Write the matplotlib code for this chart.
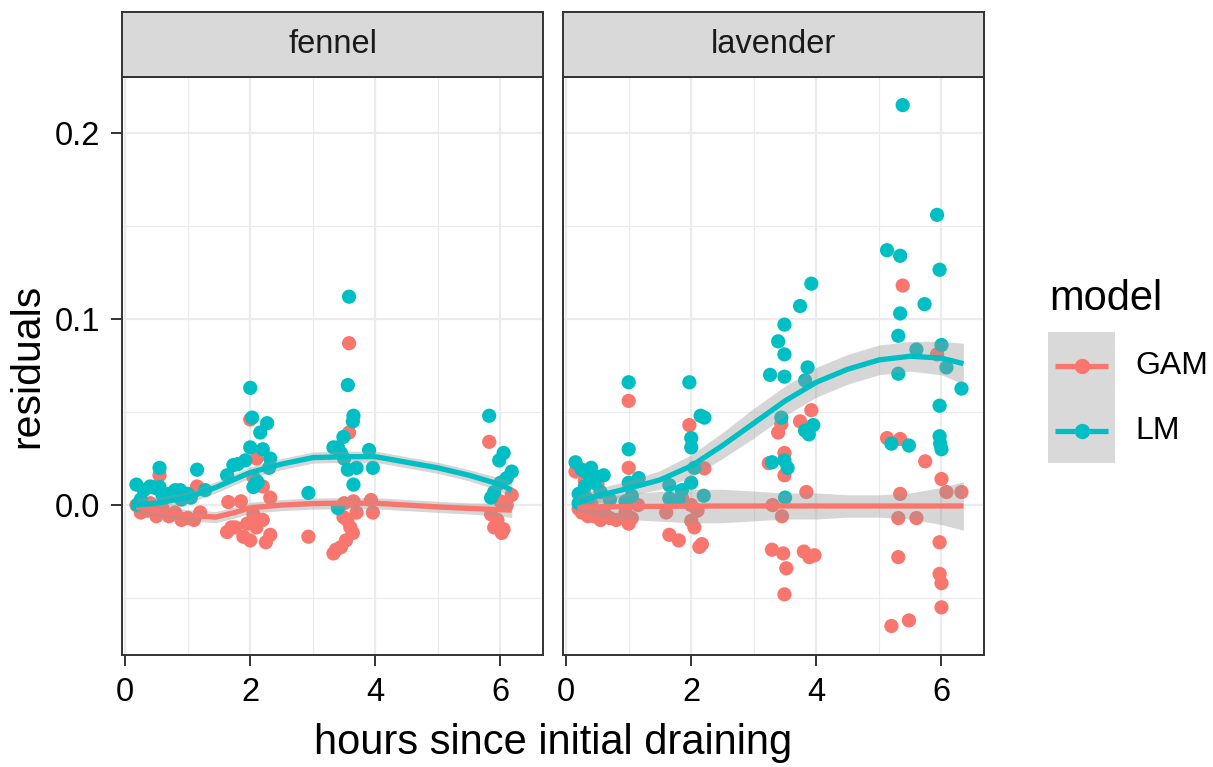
import matplotlib.pyplot as plt
from matplotlib.patches import Rectangle
import numpy as np

plt.rcParams['font.family'] = ['Liberation Sans', 'DejaVu Sans']

GAM_COL = '#F8766D'
LM_COL = '#00BFC4'

panels = ['fennel', 'lavender']
models = ['GAM', 'LM']

# fennel residuals
fen_gam_x = [0.18, 0.25, 0.35, 0.4, 0.45, 0.5, 0.55, 0.6, 0.7, 0.8, 0.9, 1.0, 1.1, 1.15, 1.2,
             1.63, 1.65, 1.7, 1.76, 1.85, 1.89, 1.95, 2.0, 2.0, 2.05, 2.05, 2.1, 2.1, 2.2, 2.2, 2.25, 2.32, 2.32,
             2.93,
             3.33, 3.37, 3.45, 3.49, 3.5, 3.53, 3.55, 3.58, 3.58, 3.6, 3.64, 3.65, 3.7, 3.93, 3.96,
             5.82, 5.85, 5.9, 5.95, 6.0, 6.02, 6.05, 6.1, 6.18]
fen_gam_y = [0.0, -0.004, -0.003, 0.001, -0.001, -0.006, 0.016, -0.002, -0.006, -0.004, -0.008, -0.007, -0.008, 0.010, -0.004,
             -0.0145, 0.0016, -0.012, -0.012, 0.002, -0.017, -0.010, 0.046, -0.019, -0.005, 0.015, -0.012, 0.025, -0.008, 0.010, -0.020, -0.016, 0.004,
             -0.017,
             -0.026, -0.024, -0.0226, -0.0065, 0.001, -0.019, -0.008, 0.087, 0.039, -0.012, -0.015, 0.002, -0.004, 0.0027, -0.004,
             0.034, -0.005, -0.012, -0.008, 0.002, -0.015, -0.013, 0.0, 0.0054]
fen_lm_x = [0.18, 0.2, 0.25, 0.3, 0.4, 0.44, 0.5, 0.55, 0.55, 0.6, 0.7, 0.8, 0.88, 0.9, 1.0, 1.05, 1.15, 1.28,
            1.63, 1.73, 1.8, 1.92, 2.0, 2.0, 2.03, 2.05, 2.1, 2.12, 2.16, 2.2, 2.27, 2.3, 2.32,
            2.93,
            3.33, 3.4, 3.4, 3.45, 3.49, 3.5, 3.56, 3.56, 3.58, 3.64, 3.65, 3.65, 3.7, 3.9, 3.96,
            5.82, 5.85, 5.9, 5.98, 6.0, 6.05, 6.1, 6.18]
fen_lm_y = [0.011, 0.0, 0.003, 0.008, 0.010, 0.0097, 0.009, 0.020, 0.0097, 0.005, 0.006, 0.008, 0.008, 0.003, 0.006, 0.004, 0.019, 0.008,
            0.016, 0.0215, 0.022, 0.024, 0.063, 0.031, 0.047, 0.0097, 0.013, 0.012, 0.039, 0.030, 0.044, 0.020, 0.025,
            0.0065,
            0.031, 0.031, -0.0016, 0.028, 0.0366, 0.025, 0.0645, 0.019, 0.112, 0.045, 0.048, 0.011, 0.020, 0.0296, 0.020,
            0.048, 0.004, 0.007, 0.024, 0.012, 0.028, 0.0145, 0.018]

# lavender residuals
lav_gam_x = [0.15, 0.2, 0.25, 0.3, 0.3, 0.35, 0.4, 0.45, 0.5, 0.55, 0.6, 0.7, 0.8,
             0.95, 1.0, 1.0, 1.0, 1.05, 1.15,
             1.6, 1.65, 1.8, 1.85, 1.97, 2.0, 2.0, 2.05, 2.1, 2.13, 2.17, 2.21,
             3.24, 3.29, 3.3, 3.39, 3.44, 3.45, 3.47, 3.49, 3.49, 3.49, 3.52, 3.74, 3.8, 3.84, 3.89, 3.92, 3.97,
             5.13, 5.2, 5.31, 5.31, 5.34, 5.34, 5.38, 5.48, 5.6, 5.74, 5.93, 5.97, 5.97, 6.0, 6.0, 6.0, 6.08, 6.32]
lav_gam_y = [0.018, -0.002, -0.004, 0.013, 0.005, -0.006, 0.001, -0.006, 0.011, -0.008, -0.003, -0.007, -0.008,
             -0.004, 0.056, 0.020, -0.010, -0.007, 0.0,
             -0.004, -0.016, -0.019, 0.004, 0.043, -0.0085, 0.0, -0.012, -0.003, -0.0225, -0.021, 0.0197,
             0.0225, -0.024, 0.0, 0.039, 0.0435, -0.006, -0.026, 0.028, 0.016, -0.048, -0.034, 0.045, -0.025, 0.007, -0.028, 0.051, -0.027,
             0.036, -0.065, -0.007, -0.028, 0.0355, 0.006, 0.118, -0.062, -0.007, 0.0235, 0.081, -0.020, -0.037, -0.042, -0.055, 0.014, 0.007, 0.007]
lav_lm_x = [0.15, 0.2, 0.2, 0.25, 0.3, 0.35, 0.35, 0.4, 0.45, 0.5, 0.55, 0.6, 0.7,
            0.95, 1.0, 1.0, 1.0, 1.05, 1.16,
            1.65, 1.65, 1.8, 1.85, 1.97, 2.0, 2.0, 2.0, 2.05, 2.15, 2.2, 2.21,
            3.26, 3.29, 3.39, 3.44, 3.49, 3.49, 3.49, 3.49, 3.5, 3.54, 3.74, 3.82, 3.82, 3.86, 3.88, 3.92, 3.95,
            5.13, 5.2, 5.31, 5.31, 5.34, 5.34, 5.38, 5.48, 5.6, 5.73, 5.93, 5.97, 5.97, 5.97, 5.98, 6.0, 6.0, 6.08, 6.32]
lav_lm_y = [0.023, 0.001, 0.006, 0.019, 0.010, 0.017, 0.003, 0.020, 0.012, 0.015, 0.007, 0.016, 0.003,
            0.002, 0.066, 0.030, 0.012, 0.005, 0.0145,
            0.0107, 0.0035, 0.003, 0.008, 0.066, 0.036, 0.031, 0.012, 0.020, 0.048, 0.005, 0.047,
            0.070, 0.023, 0.088, 0.047, 0.097, 0.081, 0.069, 0.024, 0.004, 0.020, 0.107, 0.067, 0.040, 0.074, 0.038, 0.119, 0.043,
            0.137, 0.033, 0.091, 0.0706, 0.134, 0.103, 0.215, 0.032, 0.0836, 0.108, 0.156, 0.1265, 0.0534, 0.037, 0.033, 0.030, 0.086, 0.074, 0.0626]

# smoothed fits (value and half width of band)
fen_gam_sx = [0.18, 0.5, 1.0, 1.45, 1.75, 2.0, 2.5, 3.0, 3.5, 4.0, 4.5, 5.0, 5.5, 6.0, 6.18]
fen_gam_sy = [-0.001, -0.003, -0.0055, -0.0065, -0.004, -0.0015, 0.0, 0.0008, 0.001, 0.001, 0.0, -0.001, -0.0018, -0.0025, -0.0027]
fen_gam_se = [0.003, 0.003, 0.003, 0.003, 0.003, 0.003, 0.003, 0.003, 0.003, 0.003, 0.003, 0.003, 0.003, 0.0035, 0.004]
fen_lm_sx = [0.18, 0.5, 1.0, 1.45, 2.0, 2.5, 3.0, 3.5, 4.0, 4.5, 5.0, 5.5, 6.0, 6.18]
fen_lm_sy = [0.0, 0.001, 0.004, 0.0095, 0.0175, 0.022, 0.0255, 0.026, 0.026, 0.023, 0.020, 0.016, 0.011, 0.008]
fen_lm_se = [0.004, 0.003, 0.003, 0.003, 0.003, 0.003, 0.003, 0.003, 0.003, 0.003, 0.003, 0.003, 0.0035, 0.004]

lav_gam_sx = [0.18, 0.5, 1.0, 1.5, 2.0, 2.5, 3.0, 3.5, 4.0, 4.5, 5.0, 5.5, 6.0, 6.35]
lav_gam_sy = [-0.001, -0.001, -0.0008, -0.0007, -0.0006, -0.0005, -0.0005, -0.0005, -0.0005, -0.0005, -0.0005, -0.0005, -0.0005, -0.0005]
lav_gam_se = [0.002, 0.005, 0.007, 0.008, 0.009, 0.009, 0.008, 0.007, 0.007, 0.006, 0.006, 0.007, 0.010, 0.013]
lav_lm_sx = [0.18, 0.5, 1.0, 1.5, 2.0, 2.5, 3.0, 3.5, 4.0, 4.5, 5.0, 5.5, 6.0, 6.35]
lav_lm_sy = [0.001, 0.005, 0.009, 0.0135, 0.021, 0.032, 0.044, 0.056, 0.066, 0.073, 0.078, 0.080, 0.079, 0.076]
lav_lm_se = [0.004, 0.004, 0.004, 0.005, 0.006, 0.007, 0.008, 0.008, 0.008, 0.008, 0.008, 0.008, 0.009, 0.011]

data = {
    'fennel': [(fen_gam_x, fen_gam_y, fen_gam_sx, fen_gam_sy, fen_gam_se, GAM_COL),
               (fen_lm_x, fen_lm_y, fen_lm_sx, fen_lm_sy, fen_lm_se, LM_COL)],
    'lavender': [(lav_gam_x, lav_gam_y, lav_gam_sx, lav_gam_sy, lav_gam_se, GAM_COL),
                 (lav_lm_x, lav_lm_y, lav_lm_sx, lav_lm_sy, lav_lm_se, LM_COL)],
}

W, H = 1213, 767
fig = plt.figure(figsize=(W / 100, H / 100), dpi=100)

dark = '#333333'
panel_left = [122, 563]
panel_w = 421
top, bottom = 77, 655

for i, name in enumerate(panels):
    ax = fig.add_axes([panel_left[i] / W, (H - bottom) / H, panel_w / W, (bottom - top) / H])
    ax.set_xlim(-0.05, 6.68)
    ax.set_ylim(-0.0806, 0.2301)
    ax.set_xticks([0, 2, 4, 6])
    ax.set_xticks([1, 3, 5], minor=True)
    ax.set_yticks([0.0, 0.1, 0.2])
    ax.set_yticks([-0.05, 0.05, 0.15], minor=True)
    ax.grid(which='major', color='#EBEBEB', lw=1.6)
    ax.grid(which='minor', color='#EBEBEB', lw=0.8)
    ax.set_axisbelow(True)
    for s in ax.spines.values():
        s.set_color(dark)
        s.set_linewidth(1.4)
    ax.tick_params(which='major', length=8, width=1.4, color=dark, labelsize=23.5, labelcolor='black', pad=8)
    ax.tick_params(which='minor', length=0)
    if i == 0:
        ax.set_yticklabels(['0.0', '0.1', '0.2'])
        ax.set_ylabel('residuals', fontsize=29.5, labelpad=6)
    else:
        ax.tick_params(axis='y', which='major', length=0, labelleft=False)

    series = data[name]
    for xs, ys, _, _, _, col in series:
        ax.scatter(xs, ys, s=105, color=col, edgecolors='none', zorder=2)
    for _, _, sx, sy, se, col in series:
        sy = np.array(sy)
        se = np.array(se)
        ax.fill_between(sx, sy - se, sy + se, color='#999999', alpha=0.4, lw=0, zorder=3)
        ax.plot(sx, sy, color=col, lw=3.8, zorder=4, solid_capstyle='butt')

    # facet strip
    sax = fig.add_axes([panel_left[i] / W, (H - top) / H, panel_w / W, 65 / H])
    sax.set_facecolor('#D9D9D9')
    sax.set_xticks([])
    sax.set_yticks([])
    for s in sax.spines.values():
        s.set_color(dark)
        s.set_linewidth(1.4)
    sax.text(0.5, 0.5, name, ha='center', va='center', fontsize=23.5, color='#1A1A1A',
             transform=sax.transAxes)

fig.text((122 + 985) / 2 / W, 4 / H, 'hours since initial draining', ha='center', va='bottom', fontsize=30)

# legend, laid out in pixel coordinates
lax = fig.add_axes([0, 0, 1, 1])
lax.set_xlim(0, W)
lax.set_ylim(H, 0)
lax.axis('off')
lax.text(1049, 310, 'model', fontsize=30, ha='left', va='baseline')
lax.add_patch(Rectangle((1048, 332), 67, 131, facecolor='#D9D9D9', edgecolor='none'))
for k, (lab, col) in enumerate(zip(models, [GAM_COL, LM_COL])):
    yk = 366 + 65 * k
    lax.plot([1055, 1108], [yk, yk], color=col, lw=3.8, solid_capstyle='butt')
    lax.plot([1081.5], [yk], 'o', color=col, markersize=10)
    lax.text(1135, yk, lab, fontsize=23, ha='left', va='center')

fig.savefig('out.png', dpi=100)
